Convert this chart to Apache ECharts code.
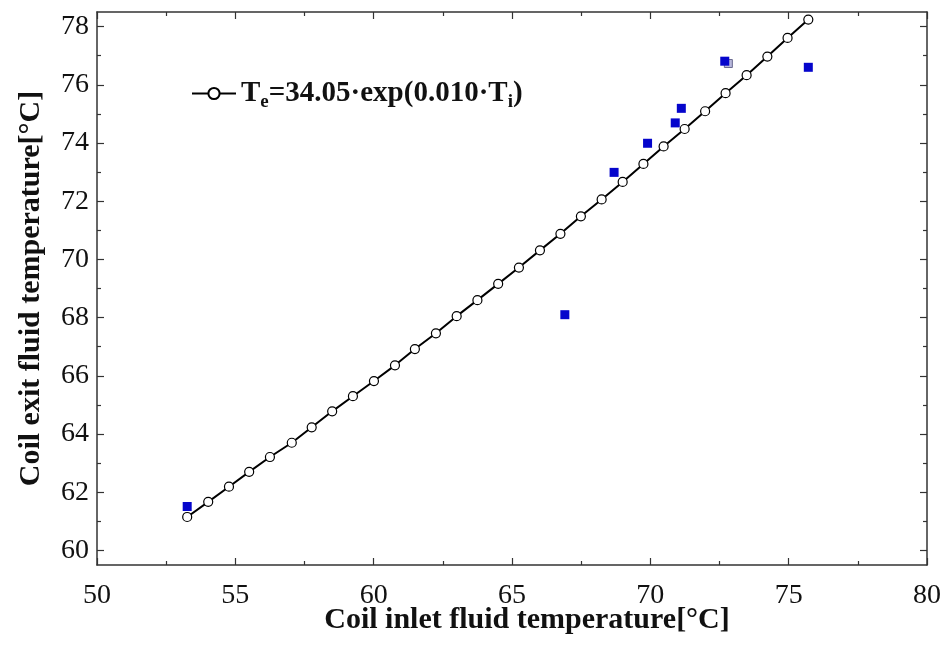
<!DOCTYPE html>
<html><head><meta charset="utf-8">
<script src="https://cdn.jsdelivr.net/npm/echarts@6/dist/echarts.min.js"></script>
<style>html,body{margin:0;padding:0;background:#fff}#c{width:946px;height:646px}</style>
</head><body><div id="c"></div>
<script>
const fitX = [53.26, 54.02, 54.77, 55.50, 56.25, 57.04, 57.76, 58.50, 59.25, 60.01, 60.77, 61.49, 62.25, 63.00, 63.75, 64.50, 65.25, 66.01, 66.75, 67.49, 68.24, 69.00, 69.75, 70.48, 71.24, 71.98, 72.72, 73.48, 74.23, 74.96, 75.71];
const fitY = [61.15, 61.67, 62.19, 62.70, 63.21, 63.70, 64.23, 64.78, 65.30, 65.82, 66.36, 66.92, 67.46, 68.05, 68.60, 69.16, 69.72, 70.31, 70.88, 71.48, 72.06, 72.66, 73.28, 73.88, 74.48, 75.09, 75.71, 76.33, 76.97, 77.61, 78.24];
const measX = [53.26, 66.91, 68.69, 69.90, 70.90, 71.12, 72.69, 75.71];
const measY = [61.51, 68.10, 72.99, 73.99, 74.69, 75.19, 76.81, 76.60];
const ghostX = [72.82];
const ghostY = [76.73];
const yTicks = [60, 62, 64, 66, 68, 70, 72, 74, 76, 78];
const yMinorTicks = [61, 63, 65, 67, 69, 71, 73, 75, 77];
const xTitle = 'Coil inlet fluid temperature[°C]';
const yTitle = 'Coil exit fluid temperature[°C]';
const legendName = 'fit';

const FONT = '"Liberation Serif","Times New Roman",serif';
const AX = '#333';
const zip = (a, b) => a.map((v, i) => [v, b[i]]);

const chart = echarts.init(document.getElementById('c'), null, {renderer: 'canvas'});

const xBase = {
  type: 'value', min: 50, max: 80, interval: 5,
  axisLine: {show: true, lineStyle: {color: AX, width: 1.5}},
  axisTick: {show: true, inside: true, length: 7, lineStyle: {color: AX, width: 1.2}},
  minorTick: {show: true, splitNumber: 2, length: 4, lineStyle: {color: AX, width: 1.2}},
  splitLine: {show: false}, minorSplitLine: {show: false}
};
const yBase = {
  type: 'value', min: 59.5, max: 78.5,
  splitLine: {show: false}
};

chart.setOption({
  animation: false,
  backgroundColor: '#fff',
  grid: {left: 97, right: 19, top: 12, bottom: 81, containLabel: false, outerBoundsMode: 'none'},
  legend: {
    show: true, left: 186, top: 74, data: [legendName],
    itemWidth: 44, itemHeight: 14,
    formatter: () => '{b|T}{s|e}{b|=34.05·exp(0.010·T}{s|i}{b|)}',
    textStyle: {
      fontFamily: FONT, fontWeight: 'bold', color: '#111', fontSize: 29,
      rich: {
        b: {fontFamily: FONT, fontWeight: 'bold', fontSize: 29, color: '#111', lineHeight: 36, verticalAlign: 'middle'},
        s: {fontFamily: FONT, fontWeight: 'bold', fontSize: 19, color: '#111', lineHeight: 19, verticalAlign: 'bottom'}
      }
    }
  },
  xAxis: [
    Object.assign({}, xBase, {
      position: 'bottom',
      axisLabel: {show: true, fontFamily: FONT, fontSize: 28, color: '#111', margin: 17},
      name: xTitle, nameLocation: 'middle', nameGap: 40, nameMoveOverlap: false,
      nameTextStyle: {fontFamily: FONT, fontWeight: 'bold', fontSize: 30, color: '#111', padding: [0, 0, 0, 30]}
    }),
    Object.assign({}, xBase, {position: 'top', axisLabel: {show: false}})
  ],
  yAxis: [
    Object.assign({}, yBase, {
      position: 'left',
      axisLine: {show: true, lineStyle: {color: AX, width: 1.5}},
      axisTick: {show: true, inside: true, length: 7, customValues: yTicks, lineStyle: {color: AX, width: 1.2}},
      axisLabel: {show: true, customValues: yTicks, fontFamily: FONT, fontSize: 28, color: '#111', margin: 8},
      name: yTitle, nameLocation: 'middle', nameGap: 51, nameRotate: 90, nameMoveOverlap: false,
      nameTextStyle: {fontFamily: FONT, fontWeight: 'bold', fontSize: 30, color: '#111'}
    }),
    Object.assign({}, yBase, {
      position: 'left',
      axisLine: {show: false},
      axisTick: {show: true, inside: true, length: 4, customValues: yMinorTicks, lineStyle: {color: AX, width: 1.2}},
      axisLabel: {show: false}
    }),
    Object.assign({}, yBase, {
      position: 'right',
      axisLine: {show: true, lineStyle: {color: AX, width: 1.5}},
      axisTick: {show: true, inside: true, length: 7, customValues: yTicks, lineStyle: {color: AX, width: 1.2}},
      axisLabel: {show: false}
    }),
    Object.assign({}, yBase, {
      position: 'right',
      axisLine: {show: false},
      axisTick: {show: true, inside: true, length: 4, customValues: yMinorTicks, lineStyle: {color: AX, width: 1.2}},
      axisLabel: {show: false}
    })
  ],
  series: [
    {
      name: 'ghost', type: 'scatter', xAxisIndex: 0, yAxisIndex: 0,
      symbol: 'rect', symbolSize: 8, z: 1,
      itemStyle: {color: '#b8b8dc', borderColor: '#6a6a90', borderWidth: 1, opacity: 1},
      data: zip(ghostX, ghostY)
    },
    {
      name: 'measured', type: 'scatter', xAxisIndex: 0, yAxisIndex: 0,
      symbol: 'rect', symbolSize: 9, z: 2,
      itemStyle: {color: '#0505cc', opacity: 1},
      data: zip(measX, measY)
    },
    {
      name: legendName, type: 'line', xAxisIndex: 0, yAxisIndex: 0, z: 3,
      symbol: 'circle', symbolSize: 9, showAllSymbol: true,
      lineStyle: {color: '#000', width: 2},
      itemStyle: {color: '#fff', borderColor: '#000', borderWidth: 1.2},
      data: zip(fitX, fitY)
    }
  ]
});
</script>
</body></html>
